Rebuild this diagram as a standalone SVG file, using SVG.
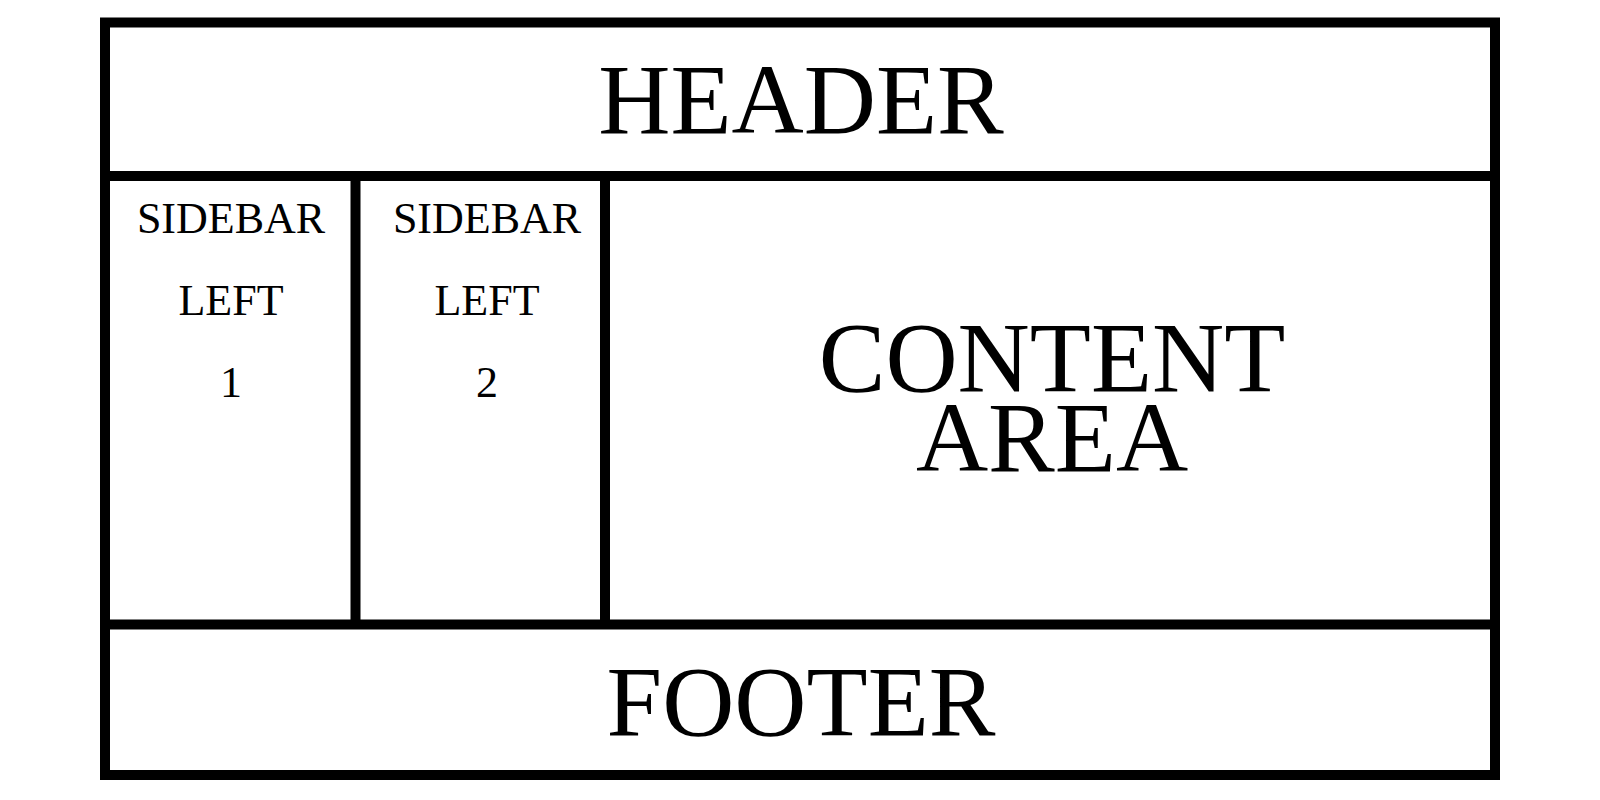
<svg xmlns="http://www.w3.org/2000/svg" width="1600" height="800" viewBox="0 0 1600 800">
<style>
.box{fill:none;stroke:#000;stroke-width:10}
.big{font-family:"Liberation Serif","Times New Roman",serif;font-size:100px;fill:#000;text-anchor:middle}
.small{font-family:"Liberation Serif","Times New Roman",serif;font-size:44px;fill:#000;text-anchor:middle}
</style>
<rect width="1600" height="800" fill="#fff"/>
<g id="frame">
<rect class="box" x="105" y="22.5" width="1390" height="752.5"/>
</g>
<g id="connectors">
<line class="box" x1="105" y1="176" x2="1495" y2="176"/>
<line class="box" x1="105" y1="624.5" x2="1495" y2="624.5"/>
<line class="box" x1="355.5" y1="176" x2="355.5" y2="624.5"/>
<line class="box" x1="605" y1="176" x2="605" y2="624.5"/>
</g>
<g id="header">
<text class="big" x="801" y="133">HEADER</text>
</g>
<g id="sidebar1">
<text class="small" x="231" y="233">SIDEBAR</text>
<text class="small" x="231" y="315">LEFT</text>
<text class="small" x="231" y="397">1</text>
</g>
<g id="sidebar2">
<text class="small" x="487" y="233">SIDEBAR</text>
<text class="small" x="487" y="315">LEFT</text>
<text class="small" x="487" y="397">2</text>
</g>
<g id="content">
<text class="big" x="1052" y="391">CONTENT</text>
<text class="big" x="1052" y="471">AREA</text>
</g>
<g id="footer">
<text class="big" x="801" y="735">FOOTER</text>
</g>
</svg>
